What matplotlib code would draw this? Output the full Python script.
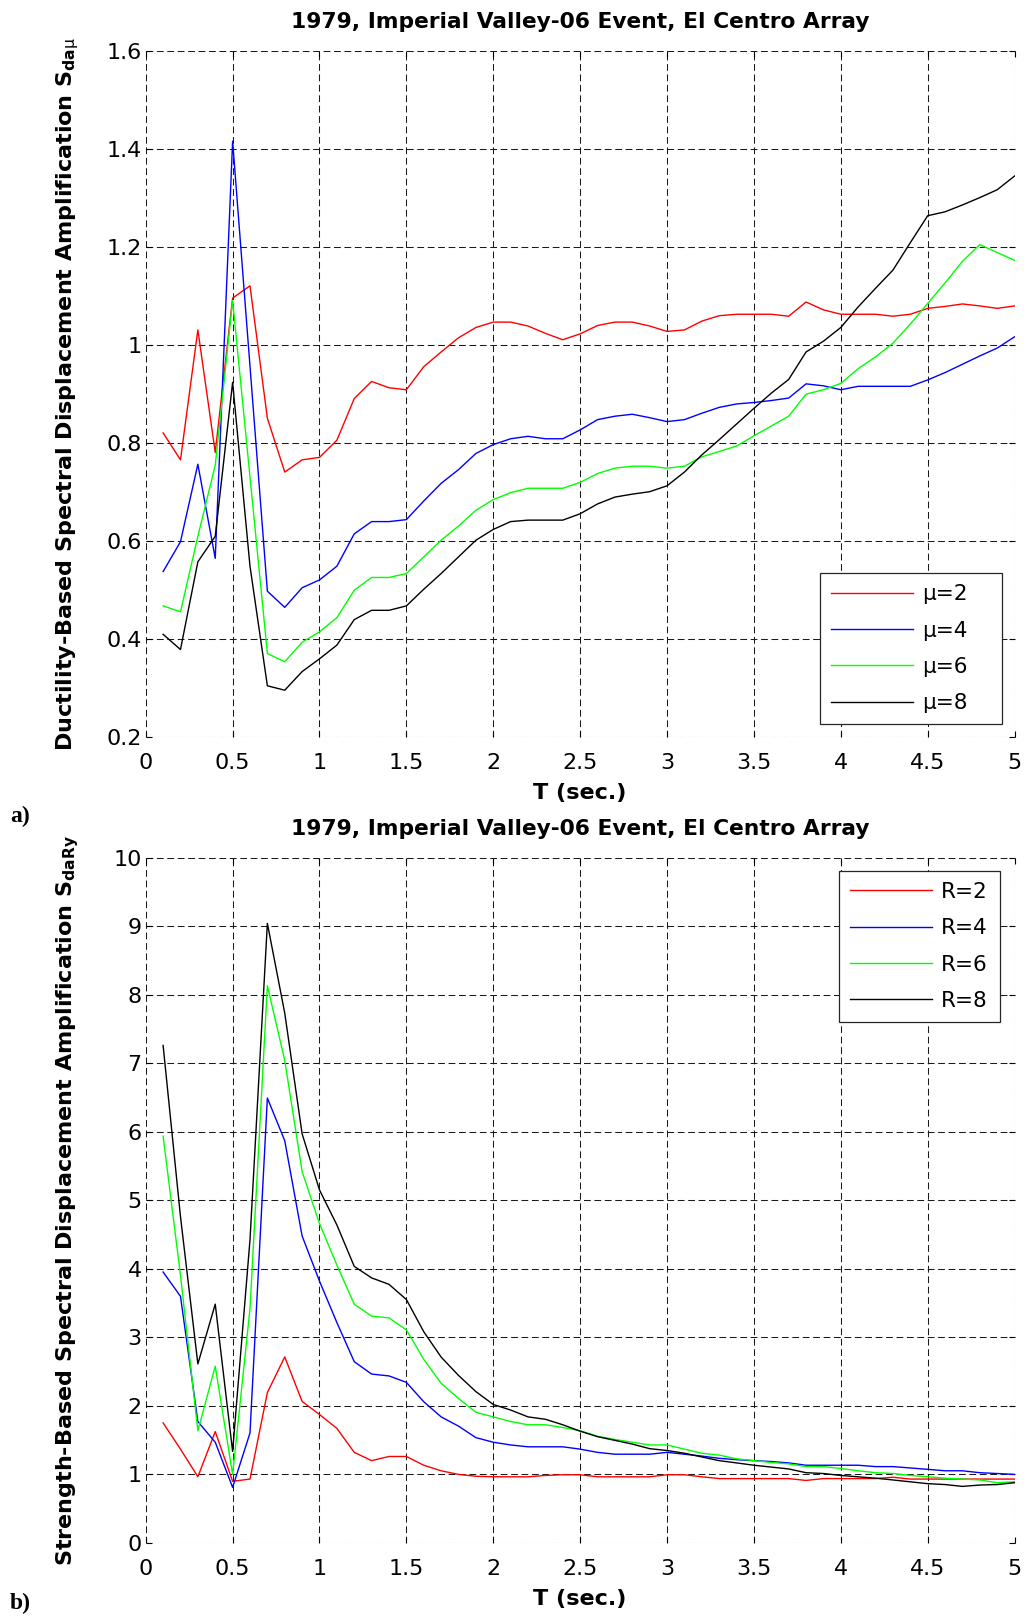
import numpy as np
import matplotlib.pyplot as plt

plt.rcParams['font.family'] = ['DejaVu Sans']
plt.rcParams['mathtext.fontset'] = 'dejavusans'

# Period values (sec.)
T = np.round(np.arange(0.1, 5.01, 0.1), 1)

# Ductility-based amplification, mu = 2, 4, 6, 8
mu2 = [0.82, 0.765, 1.03, 0.78, 1.095, 1.12, 0.85, 0.74, 0.765, 0.77,
       0.805, 0.89, 0.925, 0.912, 0.908, 0.955, 0.985, 1.014, 1.035, 1.046,
       1.046, 1.038, 1.023, 1.01, 1.022, 1.039, 1.046, 1.046, 1.038, 1.027,
       1.03, 1.048, 1.059, 1.062, 1.062, 1.062, 1.058, 1.087, 1.071, 1.062,
       1.062, 1.062, 1.058, 1.062, 1.074, 1.078, 1.083, 1.079, 1.074, 1.079]
mu4 = [0.537, 0.598, 0.756, 0.564, 1.415, 0.956, 0.497, 0.464, 0.504, 0.52,
       0.548, 0.614, 0.639, 0.639, 0.643, 0.681, 0.717, 0.745, 0.778, 0.796,
       0.808, 0.813, 0.808, 0.808, 0.826, 0.847, 0.854, 0.858, 0.851, 0.843,
       0.847, 0.86, 0.872, 0.879, 0.882, 0.886, 0.891, 0.92, 0.916, 0.908,
       0.915, 0.915, 0.915, 0.915, 0.928, 0.943, 0.96, 0.977, 0.993, 1.016]
mu6 = [0.467, 0.455, 0.609, 0.754, 1.09, 0.73, 0.37, 0.353, 0.393, 0.414,
       0.443, 0.499, 0.525, 0.525, 0.533, 0.567, 0.601, 0.63, 0.662, 0.684,
       0.698, 0.707, 0.707, 0.707, 0.719, 0.737, 0.748, 0.752, 0.752, 0.748,
       0.752, 0.771, 0.782, 0.793, 0.814, 0.834, 0.854, 0.899, 0.908, 0.921,
       0.951, 0.975, 1.003, 1.042, 1.084, 1.126, 1.17, 1.204, 1.188, 1.172]
mu8 = [0.409, 0.378, 0.557, 0.609, 0.923, 0.548, 0.304, 0.295, 0.333, 0.359,
       0.387, 0.439, 0.458, 0.458, 0.467, 0.501, 0.533, 0.567, 0.601, 0.623,
       0.639, 0.642, 0.642, 0.642, 0.655, 0.675, 0.689, 0.695, 0.7, 0.712,
       0.74, 0.775, 0.806, 0.838, 0.87, 0.901, 0.929, 0.985, 1.007, 1.035,
       1.077, 1.115, 1.152, 1.208, 1.263, 1.271, 1.285, 1.3, 1.316, 1.344]

# Strength-based amplification, R = 2, 4, 6, 8
R2 = [1.747, 1.364, 0.961, 1.62, 0.894, 0.927, 2.19, 2.71, 2.06, 1.87,
      1.667, 1.317, 1.196, 1.257, 1.257, 1.129, 1.048, 0.995, 0.968, 0.961,
      0.96, 0.96, 0.98, 0.99, 0.99, 0.96, 0.96, 0.96, 0.96, 0.99,
      0.99, 0.96, 0.934, 0.934, 0.934, 0.934, 0.934, 0.907, 0.934, 0.934,
      0.934, 0.934, 0.954, 0.927, 0.927, 0.927, 0.927, 0.927, 0.927, 0.927]
R4 = [3.95, 3.595, 1.767, 1.465, 0.806, 1.6, 6.49, 5.867, 4.476, 3.817,
      3.212, 2.641, 2.46, 2.433, 2.339, 2.056, 1.835, 1.7, 1.532, 1.465,
      1.425, 1.398, 1.398, 1.398, 1.364, 1.317, 1.29, 1.29, 1.29, 1.317,
      1.29, 1.263, 1.23, 1.21, 1.196, 1.183, 1.163, 1.129, 1.129, 1.129,
      1.129, 1.109, 1.109, 1.089, 1.069, 1.048, 1.048, 1.02, 1.008, 0.995]
R6 = [5.934, 3.9, 1.633, 2.574, 0.995, 3.414, 8.13, 7.04, 5.417, 4.657,
      4.052, 3.48, 3.306, 3.28, 3.105, 2.675, 2.325, 2.104, 1.902, 1.835,
      1.767, 1.72, 1.72, 1.68, 1.633, 1.552, 1.505, 1.465, 1.425, 1.425,
      1.364, 1.304, 1.277, 1.223, 1.196, 1.169, 1.149, 1.109, 1.109, 1.082,
      1.048, 1.02, 1.008, 0.98, 0.96, 0.94, 0.927, 0.914, 0.874, 0.887]
R8 = [7.258, 4.758, 2.608, 3.481, 1.33, 4.42, 9.04, 7.73, 5.968, 5.148,
      4.637, 4.032, 3.864, 3.77, 3.548, 3.078, 2.708, 2.44, 2.204, 2.016,
      1.935, 1.835, 1.8, 1.72, 1.626, 1.546, 1.492, 1.438, 1.371, 1.344,
      1.304, 1.25, 1.196, 1.163, 1.129, 1.102, 1.075, 1.02, 1.008, 0.98,
      0.96, 0.94, 0.914, 0.887, 0.86, 0.847, 0.82, 0.84, 0.847, 0.874]

colors = ['#ff0000', '#0000ff', '#00ff00', '#000000']
title = '1979, Imperial Valley-06 Event, El Centro Array'
xtick_labels = ['0', '0.5', '1', '1.5', '2', '2.5', '3', '3.5', '4', '4.5', '5']


def style_axes(ax):
    # MATLAB-like look: dashed grid doubling as the box, inward ticks
    ax.grid(True, linestyle=(0, (6.5, 3.5)), color='#1a1a1a', linewidth=0.75)
    ax.tick_params(direction='in', top=True, right=True, length=4.5, width=0.8,
                   labelsize=16)
    ax.tick_params(axis='x', pad=12)
    ax.tick_params(axis='y', pad=3)
    for sp in ax.spines.values():
        sp.set_visible(False)
    ax.set_xlim(0, 5)
    ax.set_xticks(np.arange(0, 5.01, 0.5))
    ax.set_xticklabels(xtick_labels)
    ax.set_xlabel('T (sec.)', fontsize=16, fontweight='bold', labelpad=7)
    ax.set_title(title, fontsize=15.7, fontweight='bold', pad=16)


def add_legend(ax, loc, box):
    leg = ax.legend(loc=loc, bbox_to_anchor=box, mode='expand', fontsize=15.5,
                    handlelength=3.8, handletextpad=0.45, fancybox=False,
                    framealpha=1, edgecolor='#262626', borderpad=0.5,
                    labelspacing=0.76, borderaxespad=0)
    leg.get_frame().set_linewidth(0.9)
    return leg


fig = plt.figure(figsize=(10.27, 16.2), dpi=100)

# a) ductility-based
ax1 = fig.add_axes([0.1419, 0.5452, 0.846, 0.4236])
for vals, c, m in zip([mu2, mu4, mu6, mu8], colors, [2, 4, 6, 8]):
    ax1.plot(T, vals, color=c, linewidth=1.0, label='\u03bc=%d' % m)
style_axes(ax1)
ax1.set_ylim(0.2, 1.6)
ax1.set_yticks(np.arange(0.2, 1.61, 0.2))
ax1.set_yticklabels(['0.2', '0.4', '0.6', '0.8', '1', '1.2', '1.4', '1.6'])
ax1.set_ylabel(r'Ductility-Based Spectral Displacement Amplification S$_{\mathbf{da}\mathrm{\mu}}$',
               fontsize=16, fontweight='bold')
ax1.yaxis.set_label_coords(-0.0742, 0.5)
add_legend(ax1, 'lower left', (0.776, 0.0185, 0.2094, 0.2187))

# b) strength-based
ax2 = fig.add_axes([0.1419, 0.0478, 0.846, 0.4228])
for vals, c, r in zip([R2, R4, R6, R8], colors, [2, 4, 6, 8]):
    ax2.plot(T, vals, color=c, linewidth=1.0, label='R=%d' % r)
style_axes(ax2)
ax2.set_ylim(0, 10)
ax2.set_yticks(np.arange(0, 11, 1))
ax2.set_ylabel(r'Strength-Based Spectral Displacement Amplification S$_{\mathbf{daRy}}$',
               fontsize=16, fontweight='bold')
ax2.yaxis.set_label_coords(-0.0742, 0.5)
add_legend(ax2, 'upper left', (0.798, 0.758, 0.185, 0.2224))

fig.text(0.02, 0.496, 'a)', fontsize=17, fontweight='bold',
         family=['Liberation Serif', 'DejaVu Serif'], ha='center', va='center')
fig.text(0.02, 0.010, 'b)', fontsize=17, fontweight='bold',
         family=['Liberation Serif', 'DejaVu Serif'], ha='center', va='center')

fig.savefig('out.png', dpi=100)
